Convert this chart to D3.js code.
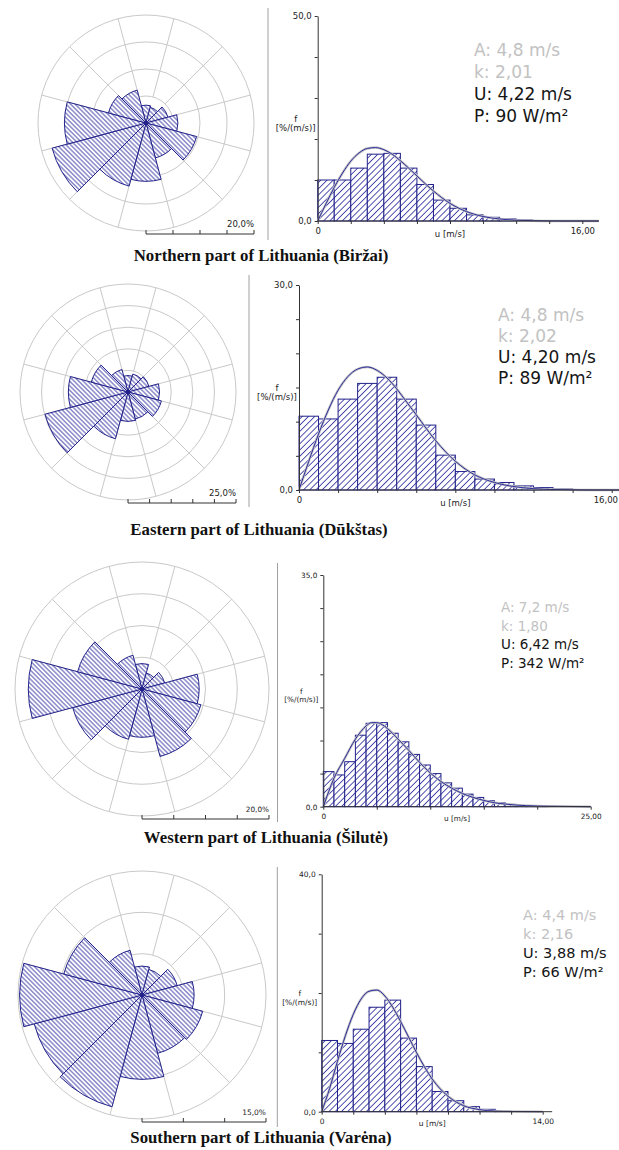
<!DOCTYPE html>
<html>
<head>
<meta charset="utf-8">
<script src="https://cdn.jsdelivr.net/npm/d3@7"></script>
<style>
  body { margin: 0; background: #fff; }
  svg { display: block; }
</style>
</head>
<body>
<script>
// Set dimensions

const width = 619, height = 1150;

// Wind rose data: % of time per 30° sector, N first, clockwise

const sectors = [0, 30, 60, 90, 120, 150, 180, 210, 240, 270, 300, 330];
const roseBirzai  = [3.3, 3.0, 4.2, 5.9, 9.7, 6.7, 10.8, 12.1, 18.0, 15.1, 7.2, 6.3];
const roseDukstas = [3.8, 4.3, 5.0, 7.3, 8.0, 6.5, 6.8, 11.2, 19.9, 13.8, 8.8, 5.4];
const roseSilute  = [4.0, 2.6, 3.7, 9.0, 9.6, 11.0, 7.6, 8.2, 11.3, 17.9, 10.5, 5.5];
const roseVarena  = [3.5, 3.2, 4.4, 6.3, 7.6, 7.3, 10.2, 14.0, 13.5, 14.8, 9.8, 5.6];

// Speed histograms: f [%/(m/s)] for bins of 1 m/s starting at 0

const histBirzai  = [10.0, 10.0, 12.9, 16.3, 16.5, 12.9, 8.9, 5.1, 3.1, 1.5, 0.9, 0.5, 0.25, 0.1];
const histDukstas = [10.8, 10.4, 13.3, 15.6, 16.5, 13.3, 9.5, 5.1, 2.7, 1.6, 1.1, 0.6, 0.35, 0.15];
const histSilute  = [5.3, 4.8, 6.8, 10.8, 12.6, 12.7, 11.1, 9.8, 7.9, 6.3, 5.0, 3.6, 2.8, 1.9, 1.4, 0.9, 0.6, 0.35, 0.15, 0.1, 0.15];
const histVarena  = [12.0, 11.5, 13.9, 17.6, 18.8, 12.4, 7.6, 3.4, 1.85, 0.85, 0.4, 0.1];

// Fitted distribution curve at these speeds

const curveUBirzai  = [0, 0.5, 1, 1.5, 2, 2.5, 3, 3.5, 4, 4.5, 5, 5.5, 6, 7, 8, 9, 10, 11, 12, 13, 14, 15, 17];
const curveFBirzai  = [0, 4.2, 8.2, 11.7, 14.6, 16.6, 17.7, 17.9, 17.4, 16.3, 14.7, 12.9, 11.0, 7.3, 4.3, 2.3, 1.1, 0.5, 0.2, 0.07, 0.02, 0, 0];
const curveUDukstas = [0, 0.5, 1, 1.5, 2, 2.5, 3, 3.5, 4, 4.5, 5, 5.5, 6, 7, 8, 9, 10, 11, 12, 13, 14, 15, 17];
const curveFDukstas = [0, 4.2, 8.2, 11.7, 14.6, 16.6, 17.7, 18.0, 17.5, 16.4, 14.8, 12.9, 11.0, 7.2, 4.2, 2.2, 1.1, 0.5, 0.2, 0.07, 0.02, 0, 0];
const curveUSilute  = [0, 1, 2, 3, 4, 4.5, 5, 5.5, 6, 7, 8, 9, 10, 11, 12, 13, 14, 15, 16, 17, 18, 20, 22, 25];
const curveFSilute  = [0, 4.3, 7.3, 10.2, 12.2, 12.7, 12.7, 12.4, 11.8, 10.2, 8.5, 6.7, 5.1, 3.8, 2.8, 2.0, 1.4, 0.95, 0.6, 0.4, 0.25, 0.1, 0.05, 0];
const curveUVarena  = [0, 0.5, 1, 1.5, 2, 2.5, 3, 3.5, 4, 4.5, 5, 5.5, 6, 6.5, 7, 8, 9, 10, 11, 12, 14];
const curveFVarena  = [0, 3.9, 8.5, 12.8, 16.4, 19.0, 20.3, 20.5, 19.5, 17.6, 15.2, 12.6, 10.0, 7.6, 5.5, 2.6, 1.0, 0.35, 0.1, 0.03, 0];

// Weibull parameters and statistics

const statsBirzai  = ["A: 4,8 m/s", "k: 2,01", "U: 4,22 m/s", "P: 90 W/m²"];
const statsDukstas = ["A: 4,8 m/s", "k: 2,02", "U: 4,20 m/s", "P: 89 W/m²"];
const statsSilute  = ["A: 7,2 m/s", "k: 1,80", "U: 6,42 m/s", "P: 342 W/m²"];
const statsVarena  = ["A: 4,4 m/s", "k: 2,16", "U: 3,88 m/s", "P: 66 W/m²"];

const captions = [
  "Northern part of Lithuania (Biržai)",
  "Eastern part of Lithuania (Dūkštas)",
  "Western part of Lithuania (Šilutė)",
  "Southern part of Lithuania (Varėna)"
];

// Axis ranges: rose outer ring %, f max and step, u label max, step and axis end

const roseMax = [20, 25, 20, 15];
const fMax    = [50, 30, 35, 40];
const fStep   = [10, 5, 5, 10];
const uMax    = [16, 16, 25, 14];
const uStep   = [2, 2, 5, 2];
const uEnd    = [17, 17, 25, 14.6];

// Layout of each panel (pixels)

const layouts = [
  {cx: 146, cy: 123, r: 108, divX: 268, divY0: 8, divY1: 240, hx0: 317.7, hx1: 582.3, hy0: 221, hy1: 16, sx: 474, sy: 56, fs: 17, gap: 22, lf: 8.5, capX: 261, capY: 261},
  {cx: 128, cy: 392, r: 108, divX: 249, divY0: 275, divY1: 507, hx0: 299, hx1: 611.7, hy0: 490, hy1: 285, sx: 498, sy: 321, fs: 17, gap: 21, lf: 8.5, capX: 259, capY: 535},
  {cx: 142, cy: 689, r: 127, divX: 277.5, divY0: 563, divY1: 822, hx0: 323.3, hx1: 590.7, hy0: 806.7, hy1: 575, sx: 501, sy: 612, fs: 13.5, gap: 18.5, lf: 7.3, capX: 266, capY: 843},
  {cx: 142, cy: 995, r: 124, divX: 277.3, divY0: 867, divY1: 1127, hx0: 321.7, hx1: 542.7, hy0: 1111.7, hy1: 874.3, sx: 523, sy: 920, fs: 14.5, gap: 19, lf: 7.5, capX: 261, capY: 1143}
];

const roses  = [roseBirzai, roseDukstas, roseSilute, roseVarena];
const hists  = [histBirzai, histDukstas, histSilute, histVarena];
const curveU = [curveUBirzai, curveUDukstas, curveUSilute, curveUVarena];
const curveF = [curveFBirzai, curveFDukstas, curveFSilute, curveFVarena];
const stats  = [statsBirzai, statsDukstas, statsSilute, statsVarena];

const navy = "#22228a";
const locale = d3.formatLocale({decimal: ",", thousands: " ", grouping: [3], currency: ["", ""]});
const f1 = locale.format(".1f"), f2 = locale.format(".2f");

//Create the SVG

const svg = d3.select("body")
  .append("svg")
  .attr("width", width)
  .attr("height", height);

// Hatch patterns

const defs = svg.append("defs");
function hatch(id, size, angle, color) {
  const p = defs.append("pattern")
    .attr("id", id)
    .attr("patternUnits", "userSpaceOnUse")
    .attr("width", size).attr("height", size)
    .attr("patternTransform", `rotate(${angle})`);
  p.append("rect").attr("width", size).attr("height", size).attr("fill", "#fff");
  p.append("line")
    .attr("x1", size / 2).attr("y1", 0).attr("x2", size / 2).attr("y2", size)
    .attr("stroke", color).attr("stroke-width", 0.9);
}
hatch("roseHatch", 3.2, -45, "#3d3da6");
hatch("barHatch", 4.4, 45, "#3d3da6");

// Wind rose

function plotRose(g, data, max, L) {
  const r = d3.scaleLinear().domain([0, max]).range([0, L.r]);
  const rings = d3.range(5, max + 0.1, 5);
  const grid = g.append("g").attr("transform", `translate(${L.cx},${L.cy})`);

  grid.selectAll("circle.ring").data(rings).join("circle")
    .attr("class", "ring")
    .attr("r", d => r(d))
    .attr("fill", "none").attr("stroke", "#c9c9c9").attr("stroke-width", 1);

  grid.selectAll("line.spoke").data(sectors).join("line")
    .attr("class", "spoke")
    .each(function(d) {
      const a = (d + 15) * Math.PI / 180;
      d3.select(this)
        .attr("x1", r(5) * Math.sin(a)).attr("y1", -r(5) * Math.cos(a))
        .attr("x2", r(max) * Math.sin(a)).attr("y2", -r(max) * Math.cos(a));
    })
    .attr("stroke", "#c9c9c9").attr("stroke-width", 1);

  const arc = d3.arc()
    .innerRadius(0)
    .outerRadius(d => r(d.v))
    .startAngle(d => (d.dir - 15) * Math.PI / 180)
    .endAngle(d => (d.dir + 15) * Math.PI / 180);

  grid.selectAll("path.wedge").data(sectors.map((dir, i) => ({dir, v: data[i]}))).join("path")
    .attr("class", "wedge")
    .attr("d", arc)
    .attr("fill", "url(#roseHatch)")
    .attr("stroke", navy).attr("stroke-width", 1);

  grid.append("circle").attr("r", 2).attr("fill", navy);

  // scale bar
  const by = L.cy + L.r + 3;
  const bar = g.append("g").attr("transform", `translate(${L.cx},${by})`);
  bar.append("line").attr("x1", 0).attr("x2", r(max)).attr("stroke", "#333");
  bar.selectAll("line.tk").data([0].concat(rings)).join("line")
    .attr("class", "tk")
    .attr("x1", d => r(d)).attr("x2", d => r(d))
    .attr("y1", 0).attr("y2", -4)
    .attr("stroke", "#333");
  bar.append("text")
    .attr("x", r(max)).attr("y", -7)
    .attr("text-anchor", "end")
    .attr("font-family", "DejaVu Sans").attr("font-size", L.lf)
    .attr("fill", "#222")
    .text(f1(max) + "%");
}

// Histogram with fitted curve

function plotHist(g, i, L) {
  const x = d3.scaleLinear().domain([0, uMax[i]]).range([L.hx0, L.hx1]);
  const y = d3.scaleLinear().domain([0, fMax[i]]).range([L.hy0, L.hy1]);

  g.selectAll("rect.bar").data(hists[i]).join("rect")
    .attr("class", "bar")
    .attr("x", (d, j) => x(j))
    .attr("width", (d, j) => x(j + 1) - x(j))
    .attr("y", d => y(d))
    .attr("height", d => y(0) - y(d))
    .attr("fill", "url(#barHatch)")
    .attr("stroke", navy).attr("stroke-width", 1);

  const pts = curveU[i].map((u, j) => ({u, f: curveF[i][j]}));
  const line = d3.line().x(d => x(d.u)).y(d => y(d.f)).curve(d3.curveMonotoneX);
  g.append("path").datum(pts).attr("d", line)
    .attr("fill", "none").attr("stroke", "#c4c4c4").attr("stroke-width", 2.5);
  g.append("path").datum(pts).attr("d", line)
    .attr("fill", "none").attr("stroke", "#2a2a9c").attr("stroke-width", 1);

  // x axis
  g.append("line")
    .attr("x1", x(0)).attr("x2", Math.min(x(uEnd[i]), width))
    .attr("y1", y(0)).attr("y2", y(0))
    .attr("stroke", "#333");
  const xa = g.append("g")
    .attr("transform", `translate(0,${y(0)})`)
    .call(d3.axisBottom(x)
      .tickValues(d3.range(0, uMax[i] + 0.01, uStep[i]))
      .tickSize(3).tickSizeOuter(0).tickPadding(4)
      .tickFormat(d => d === 0 ? "0" : (d === uMax[i] ? f2(d) : "")));
  xa.select(".domain").remove();
  xa.selectAll("line").attr("stroke", "#333");
  xa.selectAll("text").attr("font-family", "DejaVu Sans").attr("font-size", L.lf).attr("fill", "#222");
  // keep the end label inside the page
  xa.selectAll("text").each(function() {
    const b = this.getBBox();
    const tick = d3.select(this.parentNode);
    const tx = +tick.attr("transform").match(/translate\(([^,]+)/)[1];
    if (tx + b.x + b.width > width - 1) {
      d3.select(this).attr("text-anchor", "end").attr("x", width - 1 - tx);
    }
  });
  xa.append("text")
    .attr("x", x(uMax[i] / 2)).attr("y", 7 + L.lf)
    .attr("text-anchor", "middle")
    .attr("font-family", "DejaVu Sans").attr("font-size", L.lf).attr("fill", "#222")
    .text("u [m/s]");

  // y axis
  const ya = g.append("g")
    .attr("transform", `translate(${x(0)},0)`)
    .call(d3.axisLeft(y)
      .tickValues(d3.range(0, fMax[i] + 0.01, fStep[i]))
      .tickSize(3).tickSizeOuter(0).tickPadding(3)
      .tickFormat(d => (d === 0 || d === fMax[i]) ? f1(d) : ""));
  ya.select(".domain").attr("stroke", "#333");
  ya.selectAll("line").attr("stroke", "#333");
  ya.selectAll("text").attr("font-family", "DejaVu Sans").attr("font-size", L.lf).attr("fill", "#222");

  const mid = (L.hy0 + L.hy1) / 2;
  const lab = g.append("text")
    .attr("font-family", "DejaVu Sans").attr("font-size", L.lf).attr("fill", "#222")
    .attr("text-anchor", "middle");
  lab.append("tspan").attr("x", x(0) - 22).attr("y", mid + 3).text("f");
  lab.append("tspan").attr("x", x(0) - 22).attr("y", mid + 3 + L.lf * 1.15).text("[%/(m/s)]");

  // statistics
  g.selectAll("text.stat").data(stats[i]).join("text")
    .attr("class", "stat")
    .attr("x", L.sx)
    .attr("y", (d, j) => L.sy + j * L.gap)
    .attr("font-family", "DejaVu Sans").attr("font-size", L.fs)
    .attr("fill", (d, j) => j < 2 ? "#c2c2c2" : "#151515")
    .text(d => d);
}

layouts.forEach((L, i) => {
  const g = svg.append("g");
  plotRose(g, roses[i], roseMax[i], L);

  g.append("line")
    .attr("x1", L.divX).attr("x2", L.divX)
    .attr("y1", L.divY0).attr("y2", L.divY1)
    .attr("stroke", "#a0a0a0").attr("stroke-width", 1);

  plotHist(g, i, L);

  g.append("text")
    .attr("x", L.capX).attr("y", L.capY)
    .attr("text-anchor", "middle")
    .attr("font-family", "Liberation Serif").attr("font-size", 16.8).attr("font-weight", "bold")
    .attr("fill", "#111")
    .text(captions[i]);
});
</script>
</body>
</html>
